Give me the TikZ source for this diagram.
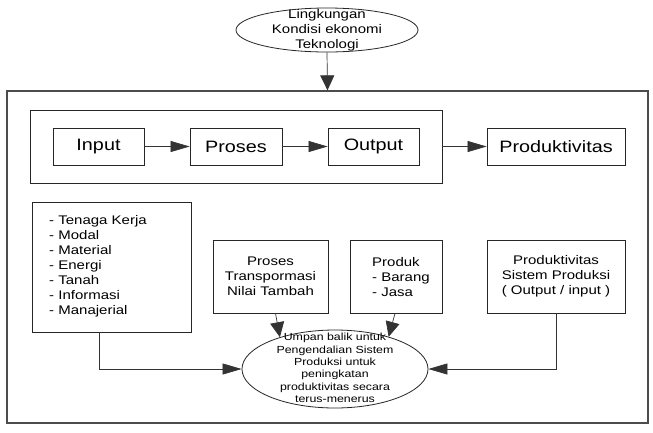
\documentclass[tikz,border=0pt]{standalone}
\usepackage{fontspec}
\setmainfont{Liberation Sans}[FakeStretch=1.2]
\usetikzlibrary{shapes.geometric,arrows.meta}
\begin{document}
\begin{tikzpicture}[x=1pt,y=-1pt,
  box/.style={draw=black!85,line width=0.8pt,rectangle,inner sep=0pt},
  bigtxt/.style={font=\fontsize{16.5}{19}\selectfont},
  midtxt/.style={font=\fontsize{12.5}{15}\selectfont},
  smalltxt/.style={font=\fontsize{10.3}{12.4}\selectfont},
  harr/.style={-{Triangle[length=19pt,width=11pt]},line width=0.7pt,draw=black!80},
  varr/.style={-{Triangle[length=15pt,width=14pt]},line width=0.7pt,draw=black!80},
  ell/.style={draw=black!85,line width=0.8pt,ellipse,inner sep=0pt}
]
\useasboundingbox[fill=white] (0,0) rectangle (653,432);

% top ellipse
\node[ell,minimum width=182pt,minimum height=44pt] (env) at (327,30) {};
\node[midtxt,align=center,inner sep=0pt] (envtxt) at (327,30.5) {Lingkungan\\Kondisi ekonomi\\Teknologi};

% outer box
\node[draw=black!70,line width=1.3pt,rectangle,inner sep=0pt,minimum width=641pt,minimum height=332pt] (outer) at (327.5,257) {};

% inner box
\node[box,minimum width=412pt,minimum height=73pt] (inner) at (236,146.5) {};

\node[box,bigtxt,minimum width=91pt,minimum height=37pt] (input) at (98.5,146.5) {Input};
\node[box,bigtxt,minimum width=92pt,minimum height=37pt] (proses) at (236,146.5) {Proses};
\node[box,bigtxt,minimum width=91pt,minimum height=37pt] (output) at (373.5,146.5) {Output};
\node[box,bigtxt,minimum width=138pt,minimum height=37pt] (prod) at (556,146.5) {Produktivitas};

\draw[harr] (input.east) -- (proses.west);
\draw[harr] (proses.east) -- (output.west);
\draw[harr] (inner.east) -- (prod.west);
\draw[varr] (env.south) -- (outer.north);

% lower boxes
\node[box,minimum width=159pt,minimum height=130pt] (list) at (111.5,267) {};
\node[midtxt,align=left,anchor=west,inner sep=0pt] (listtxt) at (49,266.5) {- Tenaga Kerja\\- Modal\\- Material\\- Energi\\- Tanah\\- Informasi\\- Manajerial};

\node[box,midtxt,align=center,minimum width=115pt,minimum height=73pt] (trans) at (270.5,276.5) {Proses\\Transpormasi\\Nilai Tambah};

\node[box,minimum width=92pt,minimum height=73pt] (produk) at (396,276.5) {};
\node[midtxt,align=left,anchor=west,inner sep=0pt] (produktxt) at (372,277) {Produk\\- Barang\\- Jasa};

\node[box,midtxt,align=center,minimum width=138pt,minimum height=73pt] (psp) at (556,276.5) {Produktivitas\\Sistem Produksi\\( Output / input )};

% feedback ellipse
\node[ell,minimum width=186pt,minimum height=78pt] (fb) at (335,369) {};
\node[smalltxt,align=center,inner sep=0pt] (fbtxt) at (335,368) {Umpan balik untuk\\Pengendalian Sistem\\Produksi untuk\\peningkatan\\produktivitas secara\\terus-menerus};

\draw[harr] ([xshift=-12.5pt]list.south) |- (fb.west);
\draw[harr] (psp.south) |- (fb.east);
\draw[varr] ([xshift=5pt]trans.south) -- (fb.150);
\draw[varr] ([xshift=-1pt]produk.south) -- (fb.31);
\end{tikzpicture}
\end{document}
